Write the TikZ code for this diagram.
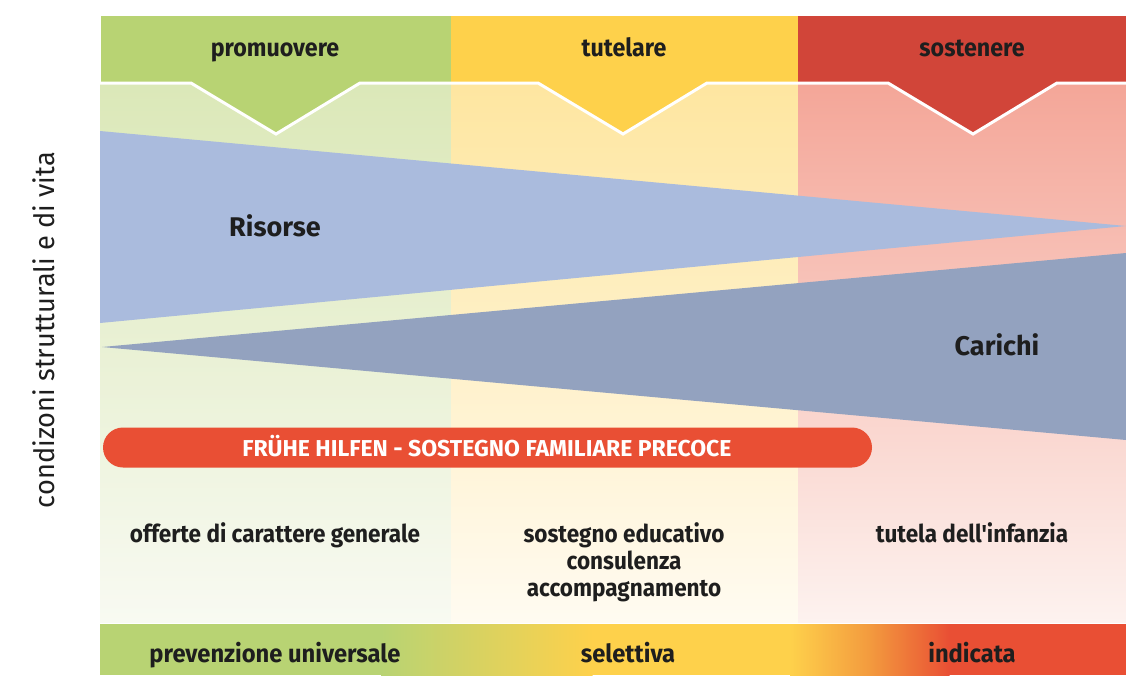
\documentclass[tikz,border=0pt]{standalone}
\usepackage{fontspec}
\setmainfont{Fira Sans}
\newfontfamily\headf{Fira Sans}[FakeStretch=0.93]
\newfontfamily\labf{Fira Sans}[FakeStretch=0.92]
\newfontfamily\footf{Fira Sans}[FakeStretch=0.95]
\newfontfamily\sidef{Fira Sans}[FakeStretch=0.97]
\definecolor{hgreen}{HTML}{B8D373}
\definecolor{hyellow}{HTML}{FED14B}
\definecolor{hred}{HTML}{D14539}
\definecolor{pgreenT}{HTML}{DBE8B8}
\definecolor{pgreenB}{HTML}{F8FAF2}
\definecolor{pyellowT}{HTML}{FEE6A0}
\definecolor{pyellowB}{HTML}{FFFBF1}
\definecolor{predT}{HTML}{F4A698}
\definecolor{predB}{HTML}{FDF2EF}
\definecolor{risorse}{HTML}{AABBDD}
\definecolor{carichi}{HTML}{93A2BF}
\definecolor{barred}{HTML}{E94F34}
\definecolor{borange}{HTML}{F39A3E}
\definecolor{txt}{HTML}{1E1E1E}
\tikzset{
  head/.style={font=\headf\bfseries\fontsize{25}{28}\selectfont, text=txt, anchor=base, inner sep=0pt},
  big/.style={font=\bfseries\fontsize{27}{30}\selectfont, text=txt, anchor=base, inner sep=0pt},
  lab/.style={font=\labf\bfseries\fontsize{24.5}{27}\selectfont, text=txt, anchor=base, inner sep=0pt},
  foot/.style={font=\footf\bfseries\fontsize{25}{28}\selectfont, text=txt, anchor=base, inner sep=0pt},
  bartext/.style={font=\bfseries\fontsize{23}{26}\selectfont, text=white, anchor=base, inner sep=0pt},
  side/.style={font=\sidef\fontsize{28}{32}\selectfont, text=txt, rotate=90, anchor=base, inner sep=0pt}
}
\begin{document}
\begin{tikzpicture}[x=1pt,y=-1pt]
\useasboundingbox[fill=white] (0,0) rectangle (1126,675);
% pale columns
\fill[top color=pgreenT, bottom color=pgreenB] (100,83) rectangle (451,622);
\fill[top color=pyellowT, bottom color=pyellowB] (451,83) rectangle (798,622);
\fill[top color=predT, bottom color=predB] (798,83) rectangle (1126,622);
% triangles
\fill[risorse] (100,131) -- (1126,226) -- (100,323) -- cycle;
\fill[carichi] (102,347) -- (1126,253) -- (1126,440) -- cycle;
% headers
\fill[hgreen] (101,16) -- (451,16) -- (451,83) -- (360,83) -- (276,134) -- (191,83) -- (101,83) -- cycle;
\fill[hyellow] (451,16) -- (798,16) -- (798,83) -- (707,83) -- (623,134) -- (538,83) -- (451,83) -- cycle;
\fill[hred] (798,16) -- (1126,16) -- (1126,83) -- (1057,83) -- (973,134) -- (888,83) -- (798,83) -- cycle;
\draw[white, line width=3pt] (100,83) -- (191,83) -- (276,134) -- (360,83) -- (538,83) -- (623,134) -- (707,83) -- (888,83) -- (973,134) -- (1057,83) -- (1126,83);
% header labels
\node[head] (h1) at (275,56) {promuovere};
\node[head] (h2) at (624,56) {tutelare};
\node[head] (h3) at (972,56) {sostenere};
% triangle labels
\node[big] (ris) at (275,236) {Risorse};
\node[big] (car) at (997,355) {Carichi};
% bar
\node[fill=barred, rounded corners=20pt, minimum width=769pt, minimum height=40pt, inner sep=0pt] (bar) at (487.5,447.5) {};
\node[bartext] (bartxt) at (487,456) {FRÜHE HILFEN - SOSTEGNO FAMILIARE PRECOCE};
% column texts
\node[lab] (t1) at (275,542) {offerte di carattere generale};
\node[lab] (t2a) at (624,542) {sostegno educativo};
\node[lab] (t2b) at (624,569) {consulenza};
\node[lab] (t2c) at (624,596) {accompagnamento};
\node[lab] (t3) at (972,542) {tutela dell'infanzia};
% bottom band
\fill[hgreen] (100,624) rectangle (381.5,675);
\fill[left color=hgreen, right color=hyellow] (381,624) rectangle (592.5,675);
\fill[hyellow] (592,624) rectangle (790.5,675);
\fill[left color=hyellow, right color=borange] (790,624) rectangle (870.5,675);
\fill[left color=borange, right color=barred] (870,624) rectangle (949.5,675);
\fill[barred] (949,624) rectangle (1126,675);
\node[foot] (b1) at (275,662) {prevenzione universale};
\node[foot] (b2) at (628,662) {selettiva};
\node[foot] (b3) at (972,662) {indicata};
% side label
\node[side] (sd) at (54,330) {condizoni strutturali e di vita};
\end{tikzpicture}
\end{document}
